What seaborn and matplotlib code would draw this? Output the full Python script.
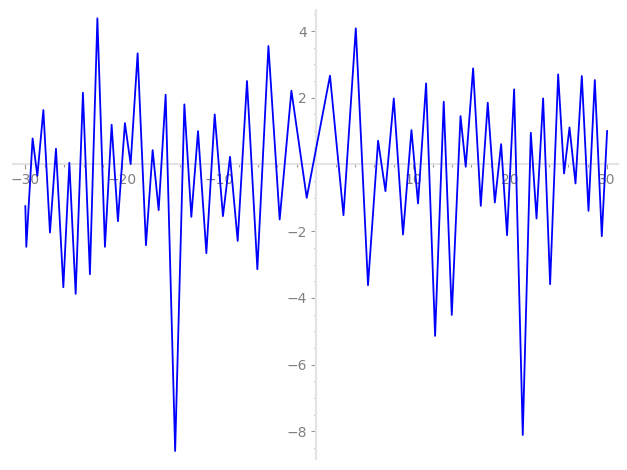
import numpy as np
import pandas as pd
import matplotlib.pyplot as plt
import seaborn as sns

# Punti (estremi locali della curva)
x_vals = [-30.0, -29.90, -29.25, -28.76, -28.14, -27.46, -26.84, -26.08, -25.46, -24.81,
          -24.06, -23.34, -22.57, -21.79, -21.10, -20.45, -19.73, -19.14, -18.42, -17.56,
          -16.87, -16.25, -15.53, -14.55, -13.60, -12.88, -12.19, -11.33, -10.47, -9.62,
          -8.89, -8.10, -7.14, -6.07, -4.93, -3.77, -2.56, -0.98, 1.42, 2.81,
          4.08, 5.34, 6.38, 7.14, 8.00, 8.95, 9.82, 10.50, 11.33, 12.26,
          13.15, 13.98, 14.88, 15.42, 16.18, 16.97, 17.69, 18.42, 19.07, 19.68,
          20.41, 21.30, 22.13, 22.72, 23.40, 24.12, 24.95, 25.56, 26.12, 26.74,
          27.39, 28.08, 28.73, 29.45, 30.0]
y_vals = [-1.24, -2.47, 0.78, -0.34, 1.63, -2.04, 0.47, -3.68, 0.05, -3.88,
          2.15, -3.29, 4.38, -2.47, 1.19, -1.70, 1.24, 0.01, 3.33, -2.42,
          0.43, -1.37, 2.09, -8.59, 1.80, -1.57, 1.00, -2.66, 1.50, -1.55,
          0.23, -2.29, 2.50, -3.14, 3.55, -1.65, 2.21, -1.00, 2.66, -1.52,
          4.08, -3.62, 0.71, -0.80, 1.98, -2.10, 1.03, -1.17, 2.43, -5.14,
          1.88, -4.51, 1.45, -0.07, 2.88, -1.24, 1.85, -1.14, 0.61, -2.12,
          2.25, -8.11, 0.95, -1.62, 1.98, -3.59, 2.70, -0.27, 1.11, -0.57,
          2.65, -1.39, 2.53, -2.15, 1.01]

x_ticks = [-30, -20, -10, 10, 20, 30]
y_ticks = [-8, -6, -4, -2, 2, 4]

sns.set_style("white")

fig = plt.figure(figsize=(6.27, 4.7), dpi=100)
ax = fig.add_axes([0.0203, 0.0234, 0.965, 0.9553])

df = pd.DataFrame({'x': x_vals, 'y': y_vals})
sns.lineplot(data=df, x='x', y='y', color='blue', linewidth=1.3,
             estimator=None, sort=False, ax=ax, zorder=3)

ax.set_xlim(-31.3, 31.1)
ax.set_ylim(-8.83, 4.63)

# assi che passano per l'origine
for s in ['top', 'right']:
    ax.spines[s].set_visible(False)
for s in ['left', 'bottom']:
    ax.spines[s].set_position(('data', 0))
    ax.spines[s].set_color('#e3e3e3')
    ax.spines[s].set_linewidth(1.5)

ax.set_xticks(x_ticks)
ax.set_xticks(np.arange(-30, 31, 2), minor=True)
ax.set_yticks(y_ticks)
ax.set_yticks(np.arange(-8.5, 4.6, 0.5), minor=True)

ax.tick_params(which='both', bottom=True, left=True, direction='out',
               color='#9a9a9a', width=0.8)
ax.tick_params(which='major', length=3.5, labelsize=10, labelcolor='#808080', pad=3)
ax.tick_params(which='minor', length=1.8)

ax.set_xlabel('')
ax.set_ylabel('')

fig.savefig('out.png', dpi=100)
